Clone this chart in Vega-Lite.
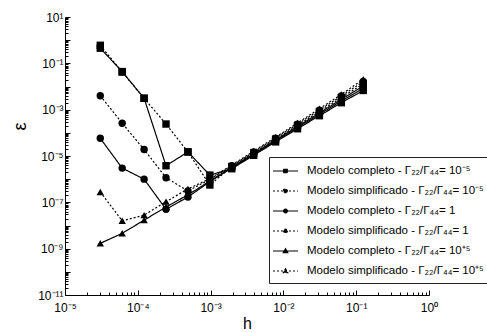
{
 "$schema": "https://vega.github.io/schema/vega-lite/v6.json",
 "width": 364, "height": 278,
 "autosize": {"type": "none"},
 "padding": {"left": 65, "top": 17, "right": 58, "bottom": 38},
 "config": {
  "view": {"stroke": null},
  "font": "Liberation Sans",
  "axis": {"domainColor": "black", "tickColor": "black", "labelColor": "black", "titleColor": "black", "labelFont": "Liberation Sans", "titleFont": "Liberation Sans", "labelFontSize": 12, "grid": false, "titleFontWeight": "normal", "labelOverlap": false, "labelFlush": false, "domainWidth": 1, "tickWidth": 1}
 },
 "datasets": {
  "d": [
   {"s":"A","m":"sq","h":3.0517578125e-5,"e":0.45},{"s":"A","m":"sq","h":6.103515625e-5,"e":0.044},{"s":"A","m":"sq","h":1.220703125e-4,"e":3.1e-3},{"s":"A","m":"sq","h":2.44140625e-4,"e":3.8e-6},{"s":"A","m":"sq","h":4.8828125e-4,"e":1.5e-5},{"s":"A","m":"sq","h":9.765625e-4,"e":1.5e-6},{"s":"A","m":"sq","h":0.001953125,"e":2.82e-6},{"s":"A","m":"sq","h":0.00390625,"e":1.07e-5},{"s":"A","m":"sq","h":0.0078125,"e":4.07e-5},{"s":"A","m":"sq","h":0.015625,"e":1.5e-4},{"s":"A","m":"sq","h":0.03125,"e":5.5e-4},{"s":"A","m":"sq","h":0.0625,"e":2.0e-3},{"s":"A","m":"sq","h":0.125,"e":6.76e-3},
   {"s":"B","m":"sq","h":3.0517578125e-5,"e":0.6},{"s":"B","m":"sq","h":6.103515625e-5,"e":0.042},{"s":"B","m":"sq","h":1.220703125e-4,"e":3.1e-3},{"s":"B","m":"sq","h":2.44140625e-4,"e":2.4e-4},{"s":"B","m":"sq","h":4.8828125e-4,"e":1.5e-5},{"s":"B","m":"sq","h":9.765625e-4,"e":5.6e-7},{"s":"B","m":"sq","h":0.001953125,"e":3.52e-6},{"s":"B","m":"sq","h":0.00390625,"e":1.37e-5},{"s":"B","m":"sq","h":0.0078125,"e":5.37e-5},{"s":"B","m":"sq","h":0.015625,"e":2.11e-4},{"s":"B","m":"sq","h":0.03125,"e":8.32e-4},{"s":"B","m":"sq","h":0.0625,"e":3.28e-3},{"s":"B","m":"sq","h":0.125,"e":1.31e-2},
   {"s":"C","m":"ci","h":3.0517578125e-5,"e":5.8e-5},{"s":"C","m":"ci","h":6.103515625e-5,"e":3.0e-6},{"s":"C","m":"ci","h":1.220703125e-4,"e":1.0e-6},{"s":"C","m":"ci","h":2.44140625e-4,"e":5.0e-8},{"s":"C","m":"ci","h":4.8828125e-4,"e":1.7e-7},{"s":"C","m":"ci","h":9.765625e-4,"e":7.8e-7},{"s":"C","m":"ci","h":0.001953125,"e":3.03e-6},{"s":"C","m":"ci","h":0.00390625,"e":1.16e-5},{"s":"C","m":"ci","h":0.0078125,"e":4.47e-5},{"s":"C","m":"ci","h":0.015625,"e":1.68e-4},{"s":"C","m":"ci","h":0.03125,"e":6.31e-4},{"s":"C","m":"ci","h":0.0625,"e":2.36e-3},{"s":"C","m":"ci","h":0.125,"e":8.43e-3},
   {"s":"D","m":"ci","h":3.0517578125e-5,"e":4.0e-3},{"s":"D","m":"ci","h":6.103515625e-5,"e":2.6e-4},{"s":"D","m":"ci","h":1.220703125e-4,"e":1.9e-5},{"s":"D","m":"ci","h":2.44140625e-4,"e":1.15e-6},{"s":"D","m":"ci","h":4.8828125e-4,"e":3.1e-7},{"s":"D","m":"ci","h":9.765625e-4,"e":9.8e-7},{"s":"D","m":"ci","h":0.001953125,"e":3.78e-6},{"s":"D","m":"ci","h":0.00390625,"e":1.49e-5},{"s":"D","m":"ci","h":0.0078125,"e":5.89e-5},{"s":"D","m":"ci","h":0.015625,"e":2.37e-4},{"s":"D","m":"ci","h":0.03125,"e":9.55e-4},{"s":"D","m":"ci","h":0.0625,"e":3.87e-3},{"s":"D","m":"ci","h":0.125,"e":1.64e-2},
   {"s":"E","m":"tr","h":3.0517578125e-5,"e":1.7e-9},{"s":"E","m":"tr","h":6.103515625e-5,"e":4.6e-9},{"s":"E","m":"tr","h":1.220703125e-4,"e":1.7e-8},{"s":"E","m":"tr","h":2.44140625e-4,"e":6.3e-8},{"s":"E","m":"tr","h":4.8828125e-4,"e":2.1e-7},{"s":"E","m":"tr","h":9.765625e-4,"e":8.3e-7},{"s":"E","m":"tr","h":0.001953125,"e":3.27e-6},{"s":"E","m":"tr","h":0.00390625,"e":1.26e-5},{"s":"E","m":"tr","h":0.0078125,"e":4.9e-5},{"s":"E","m":"tr","h":0.015625,"e":1.88e-4},{"s":"E","m":"tr","h":0.03125,"e":7.24e-4},{"s":"E","m":"tr","h":0.0625,"e":2.78e-3},{"s":"E","m":"tr","h":0.125,"e":1.05e-2},
   {"s":"F","m":"tr","h":3.0517578125e-5,"e":2.8e-7},{"s":"F","m":"tr","h":6.103515625e-5,"e":1.6e-8},{"s":"F","m":"tr","h":1.220703125e-4,"e":2.8e-8},{"s":"F","m":"tr","h":2.44140625e-4,"e":1.07e-7},{"s":"F","m":"tr","h":4.8828125e-4,"e":3.8e-7},{"s":"F","m":"tr","h":9.765625e-4,"e":1.05e-6},{"s":"F","m":"tr","h":0.001953125,"e":4.07e-6},{"s":"F","m":"tr","h":0.00390625,"e":1.62e-5},{"s":"F","m":"tr","h":0.0078125,"e":6.46e-5},{"s":"F","m":"tr","h":0.015625,"e":2.66e-4},{"s":"F","m":"tr","h":0.03125,"e":1.1e-3},{"s":"F","m":"tr","h":0.0625,"e":4.57e-3},{"s":"F","m":"tr","h":0.125,"e":2.04e-2}
  ]
 },
 "data": {"name": "d"},
 "encoding": {
  "x": {"field": "h", "type": "quantitative",
   "scale": {"type": "log", "domain": [1e-5, 1], "nice": false},
   "axis": {"title": "h", "titleFontSize": 16, "titlePadding": 0, "labelPadding": 12,
    "values": [1e-5,2e-5,3e-5,4e-5,5e-5,6e-5,7e-5,8e-5,9e-5,1e-4,2e-4,3e-4,4e-4,5e-4,6e-4,7e-4,8e-4,9e-4,1e-3,2e-3,3e-3,4e-3,5e-3,6e-3,7e-3,8e-3,9e-3,1e-2,2e-2,3e-2,4e-2,5e-2,6e-2,7e-2,8e-2,9e-2,0.1,0.2,0.3,0.4,0.5,0.6,0.7,0.8,0.9,1],
    "labelExpr": "abs(log(datum.value)/LN10 - round(log(datum.value)/LN10)) < 0.001 ? ['10⁻⁵','10⁻⁴','10⁻³','10⁻²','10⁻¹','10⁰'][round(log(datum.value)/LN10)+5] : ''",
    "tickSize": {"condition": {"test": "abs(log(datum.value)/LN10 - round(log(datum.value)/LN10)) < 0.001", "value": -5}, "value": -3}}},
  "y": {"field": "e", "type": "quantitative",
   "scale": {"type": "log", "domain": [1e-11, 10], "nice": false},
   "axis": {"title": "ε", "titleFontSize": 18, "titleAngle": -90, "titleY": 109, "titlePadding": 8, "labelPadding": 7,
    "values": [1e-11,2e-11,3e-11,4e-11,5e-11,6e-11,7e-11,8e-11,9e-11,1e-10,2e-10,3e-10,4e-10,5e-10,6e-10,7e-10,8e-10,9e-10,1e-9,2e-9,3e-9,4e-9,5e-9,6e-9,7e-9,8e-9,9e-9,1e-8,2e-8,3e-8,4e-8,5e-8,6e-8,7e-8,8e-8,9e-8,1e-7,2e-7,3e-7,4e-7,5e-7,6e-7,7e-7,8e-7,9e-7,1e-6,2e-6,3e-6,4e-6,5e-6,6e-6,7e-6,8e-6,9e-6,1e-5,2e-5,3e-5,4e-5,5e-5,6e-5,7e-5,8e-5,9e-5,1e-4,2e-4,3e-4,4e-4,5e-4,6e-4,7e-4,8e-4,9e-4,1e-3,2e-3,3e-3,4e-3,5e-3,6e-3,7e-3,8e-3,9e-3,1e-2,2e-2,3e-2,4e-2,5e-2,6e-2,7e-2,8e-2,9e-2,0.1,0.2,0.3,0.4,0.5,0.6,0.7,0.8,0.9,1,2,3,4,5,6,7,8,9,10],
    "labelExpr": "abs(log(datum.value)/LN10 - round(log(datum.value)/LN10)) < 0.001 ? ['10⁻¹¹','','10⁻⁹','','10⁻⁷','','10⁻⁵','','10⁻³','','10⁻¹','','10¹'][round(log(datum.value)/LN10)+11] : ''",
    "tickSize": {"condition": {"test": "abs(log(datum.value)/LN10 - round(log(datum.value)/LN10)) < 0.001", "value": -5}, "value": -3}}}
 },
 "layer": [
  {"mark": {"type": "line", "color": "black", "strokeWidth": 1.2},
   "encoding": {"strokeDash": {"field": "s", "type": "nominal",
    "scale": {"domain": ["A","B","C","D","E","F"], "range": [[1,0],[2,2],[1,0],[2,2],[1,0],[2,2]]},
    "legend": {"orient": "none", "legendX": 204, "legendY": 140, "title": null, "direction": "vertical",
     "padding": 6, "strokeColor": "#222", "fillColor": "white", "symbolSize": 196, "rowPadding": 6, "labelOffset": 16, "labelLimit": 400,
     "labelFontSize": 11.5, "labelFont": "Liberation Sans", "labelColor": "black", "symbolStrokeColor": "black", "symbolFillColor": "black", "symbolStrokeWidth": 1.2,
     "labelExpr": "['Modelo completo - Γ₂₂/Γ₄₄= 10⁻⁵','Modelo simplificado - Γ₂₂/Γ₄₄= 10⁻⁵','Modelo completo - Γ₂₂/Γ₄₄= 1','Modelo simplificado - Γ₂₂/Γ₄₄= 1','Modelo completo - Γ₂₂/Γ₄₄= 10⁺⁵','Modelo simplificado - Γ₂₂/Γ₄₄= 10⁺⁵'][indexof(['A','B','C','D','E','F'], datum.value)]",
     "encode": {"symbols": {"update": {
      "shape": {"signal": "(datum.value == 'A' || datum.value == 'B') ? 'M-1.43,0H2.14M0.11,-0.25H0.61V0.25H0.11Z' : (datum.value == 'C' || datum.value == 'D') ? 'M-1.43,0H2.14M0.63,0A0.27,0.27 0 1,1 0.09,0A0.27,0.27 0 1,1 0.63,0Z' : 'M-1.43,0H2.14M0.36,-0.32L0.68,0.24L0.04,0.24Z'"},
      "fill": {"value": "black"}, "stroke": {"value": "black"}, "opacity": {"value": 1}}}}}}}},
  {"mark": {"type": "point", "filled": true, "color": "black", "size": 55, "opacity": 1},
   "encoding": {"shape": {"field": "m", "type": "nominal",
    "scale": {"domain": ["sq","ci","tr"], "range": ["square","circle","triangle-up"]},
    "legend": null}, "detail": {"field": "s"}}}
 ]
}
